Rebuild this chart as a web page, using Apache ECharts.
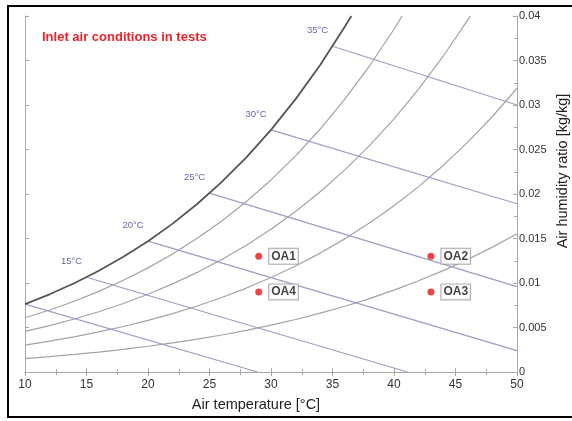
<!DOCTYPE html>
<html>
<head>
<meta charset="utf-8">
<script src="https://cdn.jsdelivr.net/npm/echarts@6/dist/echarts.min.js"></script>
<style>
html,body{margin:0;padding:0;background:#fff;}
#c{width:572px;height:421px;}
</style>
</head>
<body>
<div id="c"></div>
<script>
// ---- Data ----
const xTicks = [10, 15, 20, 25, 30, 35, 40, 45, 50];
const yTicks = [0, 0.005, 0.01, 0.015, 0.02, 0.025, 0.03, 0.035, 0.04];

// saturation curve (100 % RH): [air temperature, humidity ratio]
const satCurve = [[10,0.00763],[12,0.00873],[14,0.00997],[16,0.01137],[18,0.01294],[20,0.01470],[22,0.01667],[24,0.01888],[26,0.02136],[28,0.02412],[30,0.02721],[32,0.03066],[34,0.03450],[36,0.03879],[36.53,0.04]];
// relative humidity curves
const rh80 = [[10,0.00609],[12,0.00697],[14,0.00795],[16,0.00906],[18,0.01031],[20,0.01170],[22,0.01327],[24,0.01502],[26,0.01697],[28,0.01915],[30,0.02158],[32,0.02429],[34,0.02730],[36,0.03065],[38,0.03438],[40,0.03851],[40.65,0.04]];
const rh60 = [[10,0.00456],[12,0.00521],[14,0.00595],[16,0.00677],[18,0.00770],[20,0.00874],[22,0.00990],[24,0.01119],[26,0.01264],[28,0.01425],[30,0.01605],[32,0.01804],[34,0.02025],[36,0.02271],[38,0.02543],[40,0.02845],[42,0.03178],[44,0.03548],[46,0.03956],[46.2,0.04]];
const rh40 = [[10,0.00303],[12,0.00346],[14,0.00395],[16,0.00450],[18,0.00511],[20,0.00580],[22,0.00656],[24,0.00742],[26,0.00837],[28,0.00943],[30,0.01061],[32,0.01191],[34,0.01336],[36,0.01496],[38,0.01673],[40,0.01868],[42,0.02083],[44,0.02321],[46,0.02583],[48,0.02871],[50,0.03188]];
const rh20 = [[10,0.00151],[12,0.00173],[14,0.00197],[16,0.00224],[18,0.00255],[20,0.00289],[22,0.00327],[24,0.00369],[26,0.00416],[28,0.00468],[30,0.00526],[32,0.00590],[34,0.00661],[36,0.00739],[38,0.00825],[40,0.00920],[42,0.01025],[44,0.01139],[46,0.01265],[48,0.01403],[50,0.01554]];

// wet-bulb temperature lines
const wb10 = [[10,0.00763],[28.9,0]];
const wb15 = [[15,0.01065],[41.1,0]];
const wb20 = [[20,0.0147],[50,0.0024]];
const wb25 = [[25,0.0201],[50,0.0096]];
const wb30 = [[30,0.0272],[50,0.0189]];
const wb35 = [[35,0.0366],[50,0.0300]];
const wbLabels = ['15°C', '20°C', '25°C', '30°C', '35°C'];

// test points
const pointNames = ['OA1', 'OA2', 'OA3', 'OA4'];
const pointT = [29, 43, 43, 29];
const pointW = [0.0130, 0.0130, 0.0090, 0.0090];

// ---- Chart ----
const FONT = 'Liberation Sans, Arial, sans-serif';
const chart = echarts.init(document.getElementById('c'), null, {renderer: 'canvas'});

function curve(data, color, width) {
  return {
    type: 'line', data: data, xAxisIndex: 0, yAxisIndex: 0,
    symbol: 'none', smooth: false, silent: true,
    lineStyle: {color: color, width: width}, z: 2
  };
}
const wbLines = [wb15, wb20, wb25, wb30, wb35];

const option = {
  backgroundColor: '#fff',
  animation: false,
  title: {
    text: 'Inlet air conditions in tests', left: 42, top: 31, padding: 0,
    textStyle: {color: '#e8232b', fontSize: 13, fontWeight: 'bold', fontFamily: FONT}
  },
  grid: {left: 25, right: 55, top: 16, bottom: 49},
  xAxis: [{
    type: 'value', min: xTicks[0], max: xTicks[xTicks.length - 1], interval: 5,
    axisLine: {lineStyle: {color: '#a8a8a8', width: 1}},
    axisTick: {inside: true, length: 4, lineStyle: {color: '#a8a8a8'}},
    minorTick: {show: true, splitNumber: 2, length: 3, lineStyle: {color: '#a8a8a8'}},
    axisLabel: {color: '#333', fontSize: 12, fontFamily: FONT, margin: 7},
    splitLine: {show: false}
  }, {
    type: 'value', position: 'top', min: xTicks[0], max: xTicks[xTicks.length - 1], interval: 5,
    axisLine: {lineStyle: {color: '#a8a8a8', width: 1}},
    axisTick: {inside: true, length: 4, lineStyle: {color: '#a8a8a8'}},
    minorTick: {show: true, splitNumber: 2, length: 3, lineStyle: {color: '#a8a8a8'}},
    axisLabel: {show: false}, splitLine: {show: false}
  }],
  yAxis: [{
    type: 'value', position: 'right', min: yTicks[0], max: yTicks[yTicks.length - 1], interval: 0.005,
    axisLine: {show: true, lineStyle: {color: '#a8a8a8', width: 1}},
    axisTick: {show: true, inside: true, length: 4, lineStyle: {color: '#a8a8a8'}},
    minorTick: {show: true, splitNumber: 2, length: 3, lineStyle: {color: '#a8a8a8'}},
    axisLabel: {color: '#333', fontSize: 11, fontFamily: FONT, margin: 2,
      formatter: function (v) { return String(parseFloat(v.toFixed(4))); }},
    splitLine: {show: false}
  }, {
    type: 'value', position: 'left', min: yTicks[0], max: yTicks[yTicks.length - 1], interval: 0.005,
    axisLine: {show: true, lineStyle: {color: '#a8a8a8', width: 1}},
    axisTick: {show: true, inside: true, length: 4, lineStyle: {color: '#a8a8a8'}},
    axisLabel: {show: false}, splitLine: {show: false}
  }],
  series: [
    curve(rh20, '#a3a3a3', 1.2),
    curve(rh40, '#a3a3a3', 1.2),
    curve(rh60, '#a3a3a3', 1.2),
    curve(rh80, '#a3a3a3', 1.2),
    curve(wb10, '#9d9dc6', 1.2),
    curve(wb15, '#9d9dc6', 1.2),
    curve(wb20, '#9d9dc6', 1.2),
    curve(wb25, '#9d9dc6', 1.2),
    curve(wb30, '#9d9dc6', 1.2),
    curve(wb35, '#9d9dc6', 1.2),
    Object.assign(curve(satCurve, '#555555', 1.8), {z: 3}),
    {
      type: 'scatter', silent: true, symbolSize: 0, z: 4,
      data: wbLabels.map(function (t, i) { return {value: wbLines[i][0], name: t}; }),
      label: {show: true, position: 'inside', offset: [-15, -16], formatter: '{b}',
        color: '#3d3d8f', fontSize: 9.5, fontFamily: FONT}
    },
    {
      type: 'scatter', silent: true, symbol: 'circle', symbolSize: 7, z: 5,
      itemStyle: {color: '#e8141c'},
      data: pointNames.map(function (n, i) { return {value: [pointT[i], pointW[i]], name: n}; }),
      label: {show: true, position: 'right', distance: 7, formatter: '{b}',
        color: '#111', fontSize: 12, fontWeight: 'bold', fontFamily: FONT,
        backgroundColor: '#fff', borderColor: '#9a9a9a', borderWidth: 1, padding: [2, 2, 1, 2]}
    }
  ],
  graphic: [
    {type: 'rect', shape: {x: 8, y: 6, width: 600, height: 411}, silent: true,
      style: {fill: 'none', stroke: '#000', lineWidth: 2}},
    {type: 'text', x: 256, y: 405, silent: true,
      style: {text: 'Air temperature [°C]', fill: '#222', fontSize: 14.5, fontFamily: FONT,
        align: 'center', verticalAlign: 'middle'}},
    {type: 'text', x: 563, y: 171, rotation: Math.PI / 2, silent: true,
      style: {text: 'Air humidity ratio [kg/kg]', fill: '#222', fontSize: 14.5, fontFamily: FONT,
        align: 'center', verticalAlign: 'middle'}}
  ]
};
chart.setOption(option);
</script>
</body>
</html>
